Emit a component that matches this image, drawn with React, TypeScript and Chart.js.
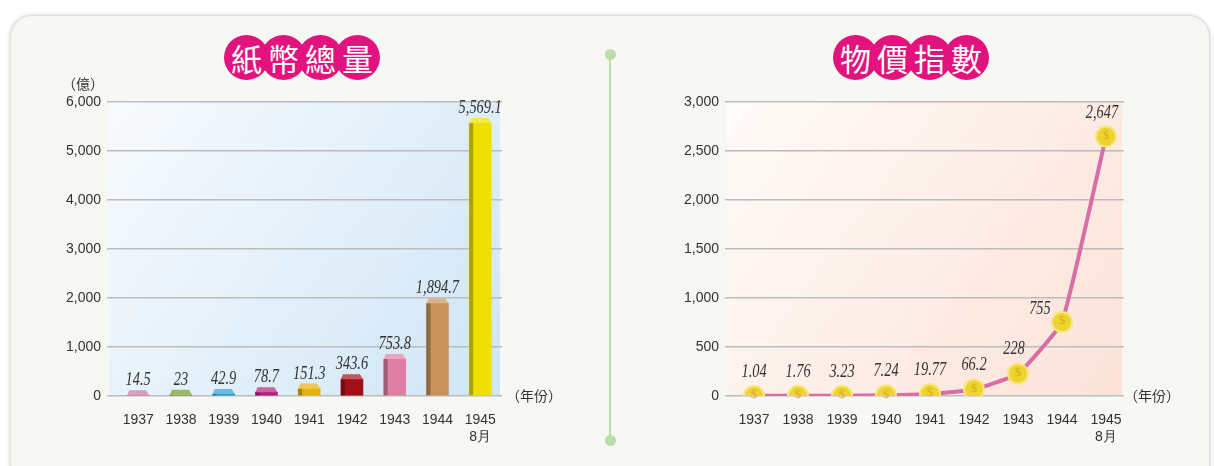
import React, { useEffect, useRef } from 'react';
import { Chart, registerables } from 'chart.js';

Chart.register(...registerables);

// ---------- data ----------
const years: string[] = ['1937', '1938', '1939', '1940', '1941', '1942', '1943', '1944', '1945'];
const yearTickLabels: (string | string[])[] = ['1937', '1938', '1939', '1940', '1941', '1942', '1943', '1944', ['1945', '8月']];
const moneySupply: number[] = [14.5, 23, 42.9, 78.7, 151.3, 343.6, 753.8, 1894.7, 5569.1];
const priceIndex: number[] = [1.04, 1.76, 3.23, 7.24, 19.77, 66.2, 228, 755, 2647];
const moneyTicks: number[] = [0, 1000, 2000, 3000, 4000, 5000, 6000];
const priceTicks: number[] = [0, 500, 1000, 1500, 2000, 2500, 3000];
const barColors: string[] = ['#c9749e', '#6c9c22', '#2a9ed3', '#b31f7e', '#e9b10c', '#a30f18', '#e07ea2', '#c8935a', '#eee000'];
// label offsets (style only) for the price line labels
const priceLabelDx: number[] = [0, 0, 0, 0, 0, 0, -4, -22, -4];
const priceLabelDy: number[] = [-19, -19, -19, -19, -19, -20, -20, -8, -19];

const TEXT = '#333333';
const SANS = '"Liberation Sans", Arial, sans-serif';

function shade(hex: string, f: number): string {
  const n = parseInt(hex.slice(1), 16);
  let r = (n >> 16) & 255, g = (n >> 8) & 255, b = n & 255;
  if (f >= 0) {
    r = Math.round(r + (255 - r) * f); g = Math.round(g + (255 - g) * f); b = Math.round(b + (255 - b) * f);
  } else {
    r = Math.round(r * (1 + f)); g = Math.round(g * (1 + f)); b = Math.round(b * (1 + f));
  }
  return `rgb(${r},${g},${b})`;
}

function drawValue(ctx: CanvasRenderingContext2D, text: string, x: number, y: number) {
  ctx.save();
  ctx.translate(x, y);
  ctx.scale(0.8, 1);
  ctx.font = 'italic 18px "Liberation Serif", "Times New Roman", serif';
  ctx.textAlign = 'center';
  ctx.textBaseline = 'alphabetic';
  ctx.fillStyle = TEXT;
  ctx.fillText(text, 0, 0);
  ctx.restore();
}

const fmt = (v: number) => v.toLocaleString('en-US', { maximumFractionDigits: 2 });

function bgPlugin(c0: string, c1: string) {
  return {
    id: 'plotBg',
    beforeDraw(chart: any) {
      const { ctx, chartArea: a } = chart;
      const g = ctx.createLinearGradient(a.left, a.top, a.right, a.bottom);
      g.addColorStop(0, c0);
      g.addColorStop(1, c1);
      ctx.save();
      ctx.fillStyle = g;
      ctx.fillRect(a.left + 2, a.top, a.right - a.left - 4, a.bottom - a.top);
      ctx.restore();
    },
  };
}

const bar3dPlugin = {
  id: 'bar3d',
  afterDatasetsDraw(chart: any) {
    const ctx = chart.ctx as CanvasRenderingContext2D;
    const meta = chart.getDatasetMeta(0);
    meta.data.forEach((el: any, i: number) => {
      const { x, y, base, width } = el.getProps(['x', 'y', 'base', 'width'], true);
      const col = barColors[i];
      const L = x - width / 2, R = x + width / 2;
      ctx.save();
      ctx.fillStyle = shade(col, -0.28);
      ctx.fillRect(L, y, 4, base - y);
      ctx.beginPath();
      ctx.moveTo(L, y);
      ctx.lineTo(R, y);
      ctx.lineTo(R - 3, y - 5);
      ctx.lineTo(L + 2, y - 5);
      ctx.closePath();
      ctx.fillStyle = shade(col, 0.3);
      ctx.fill();
      ctx.restore();
      drawValue(ctx, fmt(moneySupply[i]), x, y - 10);
    });
  },
};

const coinPlugin = {
  id: 'coins',
  afterDatasetsDraw(chart: any) {
    const ctx = chart.ctx as CanvasRenderingContext2D;
    const meta = chart.getDatasetMeta(0);
    meta.data.forEach((el: any, i: number) => {
      const { x, y } = el.getProps(['x', 'y'], true);
      ctx.save();
      ctx.font = 'bold 13px "Liberation Serif", serif';
      ctx.textAlign = 'center';
      ctx.textBaseline = 'middle';
      ctx.fillStyle = '#dcb515';
      ctx.fillText('$', x, y - 1);
      ctx.restore();
      drawValue(ctx, fmt(priceIndex[i]), x + priceLabelDx[i], y + priceLabelDy[i]);
    });
  },
};

function xScale(min: number, max: number) {
  return {
    type: 'linear',
    min,
    max,
    offset: false,
    grid: { display: false, offset: false },
    border: { display: false },
    afterBuildTicks: (s: any) => { s.ticks = years.map((_, i) => ({ value: i })); },
    afterFit: (s: any) => { s.height = 64; },
    ticks: {
      autoSkip: false,
      maxRotation: 0,
      padding: 8,
      color: TEXT,
      font: { family: SANS, size: 14 },
      callback: (v: number) => yearTickLabels[v],
    },
  };
}

function yScale(ticks: number[], width: number) {
  return {
    min: ticks[0],
    max: ticks[ticks.length - 1],
    border: { display: false },
    grid: { color: '#bcbcbc', lineWidth: 1.5, drawTicks: false },
    afterBuildTicks: (s: any) => { s.ticks = ticks.map((v) => ({ value: v })); },
    afterFit: (s: any) => { s.width = width; },
    ticks: {
      padding: 6,
      color: TEXT,
      font: { family: SANS, size: 14 },
      callback: (v: number) => v.toLocaleString('en-US'),
    },
  };
}

function MoneyChart() {
  const ref = useRef<HTMLCanvasElement>(null);
  useEffect(() => {
    const chart = new Chart(ref.current!, {
      type: 'bar',
      data: {
        datasets: [{
          data: moneySupply.map((v, i) => ({ x: i, y: v })),
          backgroundColor: barColors,
          barThickness: 22,
          borderWidth: 0,
        }],
      },
      options: {
        responsive: false,
        animation: false,
        devicePixelRatio: 1,
        layout: { padding: { top: 32, right: 88, left: 0, bottom: 0 } },
        plugins: { legend: { display: false }, tooltip: { enabled: false } },
        scales: { x: xScale(-0.73, 8.51), y: yScale(moneyTicks, 87) },
      } as any,
      plugins: [bgPlugin('#f8fbfd', '#cfe5f6'), bar3dPlugin],
    });
    return () => chart.destroy();
  }, []);
  return <canvas ref={ref} width={570} height={390} style={{ position: 'absolute', left: 20, top: 70 }} />;
}

function PriceChart() {
  const ref = useRef<HTMLCanvasElement>(null);
  useEffect(() => {
    const chart = new Chart(ref.current!, {
      type: 'line',
      data: {
        datasets: [{
          data: priceIndex.map((v, i) => ({ x: i, y: v })),
          borderColor: '#d76fa6',
          borderWidth: 4,
          tension: 0.12,
          pointRadius: 10,
          pointBackgroundColor: '#efd431',
          pointBorderColor: '#f8e77c',
          pointBorderWidth: 2,
        }],
      },
      options: {
        responsive: false,
        animation: false,
        devicePixelRatio: 1,
        layout: { padding: { top: 32, right: 76, left: 0, bottom: 0 } },
        plugins: { legend: { display: false }, tooltip: { enabled: false } },
        scales: { x: xScale(-0.66, 8.41), y: yScale(priceTicks, 95) },
      } as any,
      plugins: [bgPlugin('#fffbf8', '#fbe2d8'), coinPlugin],
    });
    return () => chart.destroy();
  }, []);
  return <canvas ref={ref} width={570} height={390} style={{ position: 'absolute', left: 630, top: 70 }} />;
}

function Badge({ text, cx }: { text: string; cx: number }) {
  const d = 45, step = 37;
  const chars = Array.from(text);
  const total = step * (chars.length - 1) + d;
  return (
    <div style={{ position: 'absolute', left: cx - total / 2, top: 57 - d / 2, width: total, height: d }}>
      {chars.map((ch, i) => (
        <div key={i} style={{
          position: 'absolute', left: i * step, top: 0, width: d, height: d, borderRadius: '50%',
          background: '#e2137e', color: '#fff', fontFamily: '"Noto Sans CJK TC", sans-serif',
          fontSize: 31, lineHeight: `${d}px`, textAlign: 'center',
        }}>{ch}</div>
      ))}
    </div>
  );
}

const smallText: React.CSSProperties = {
  position: 'absolute', fontFamily: '"Noto Sans CJK TC", sans-serif', fontSize: 14, color: TEXT,
  lineHeight: '18px', whiteSpace: 'nowrap',
};

export default function App() {
  return (
    <div style={{ position: 'fixed', left: 0, top: 0, width: 1214, height: 466, background: '#ffffff', overflow: 'hidden' }}>
      <div style={{
        position: 'absolute', left: 10, top: 15, width: 1198, height: 470, borderRadius: 22,
        background: '#f7f8f3', border: '1px solid #dedede', boxShadow: '0 0 4px rgba(0,0,0,0.18)',
      }} />
      <Badge text="紙幣總量" cx={302} />
      <Badge text="物價指數" cx={911} />
      <div style={{ position: 'absolute', left: 609, top: 55, width: 2, height: 385, background: '#bddcab' }} />
      <div style={{ position: 'absolute', left: 604.5, top: 49, width: 11, height: 11, borderRadius: '50%', background: '#bddcab' }} />
      <div style={{ position: 'absolute', left: 604.5, top: 435, width: 11, height: 11, borderRadius: '50%', background: '#bddcab' }} />
      <MoneyChart />
      <PriceChart />
      <div style={{ ...smallText, left: 62, top: 74 }}>（億）</div>
      <div style={{ ...smallText, left: 506, top: 386 }}>（年份）</div>
      <div style={{ ...smallText, left: 1124, top: 386 }}>（年份）</div>
    </div>
  );
}
